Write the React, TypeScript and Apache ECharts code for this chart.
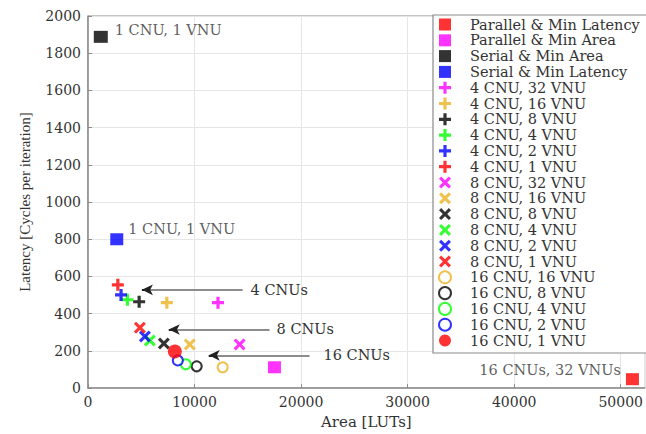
import React, { useEffect, useRef } from "react";
import * as echarts from "echarts";

// ---- data ----
const vnuLabels = ["32", "16", "8", "4", "2", "1"];
const vnuColors = ["#ff00ff", "#EDB120", "#000000", "#00ff00", "#0000ff", "#ff0000"];

const parallelMinLatency = [[51100, 48]];
const parallelMinArea = [[17500, 112]];
const serialMinArea = [[1200, 1888]];
const serialMinLatency = [[2700, 800]];

// 4 CNU: VNU 32,16,8,4,2,1
const cnu4Values = [[12200, 459], [7400, 459], [4800, 464], [3700, 475], [3100, 501], [2800, 555]];
// 8 CNU: VNU 32,16,8,4,2,1
const cnu8Values = [[14230, 235], [9550, 235], [7120, 240], [5800, 256], [5340, 277], [4870, 325]];
// 16 CNU: VNU 16,8,4,2,1
const cnu16Values = [[12640, 112], [10200, 117], [9180, 128], [8430, 149], [8150, 197]];

const arrowNotes = [
  { text: "4 CNUs", y: 528, tip: 5060, tail: 14510, gap: 8 },
  { text: "8 CNUs", y: 315, tip: 7580, tail: 17040, gap: 7 },
  { text: "16 CNUs", y: 176, tip: 11330, tail: 20790, gap: 14 },
];

const xTicks = [0, 10000, 20000, 30000, 40000, 50000];
const yMax = 2000;

const PLUS = "path://M4.4,0H7.6V4.4H12V7.6H7.6V12H4.4V7.6H0V4.4H4.4Z";
const CROSS = "path://M0,2.2L2.2,0L6,3.8L9.8,0L12,2.2L8.2,6L12,9.8L9.8,12L6,8.2L2.2,12L0,9.8L3.8,6Z";
const SQUARE = "path://M0,0H12V12H0Z";

const SERIF = "DejaVu Serif";
const TXT = "#333333";

export default function App() {
  const ref = useRef<HTMLDivElement>(null);
  useEffect(() => {
    if (!ref.current) return;
    const chart = echarts.init(ref.current, undefined, { renderer: "svg" });

    const annLabel = (text: string, position: string, offset: number[], distance = 5) => ({
      show: true,
      formatter: text,
      position,
      offset,
      distance,
      fontFamily: SERIF,
      fontSize: 14.5,
      color: TXT,
    });

    const series: any[] = [];
    series.push({
      name: "Parallel & Min Latency",
      type: "scatter",
      symbol: "rect",
      symbolSize: [13, 12],
      itemStyle: { color: "#ff0000" },
      data: parallelMinLatency,
      label: annLabel("16 CNUs, 32 VNUs", "left", [0, -9], 5),
    });
    series.push({
      name: "Parallel & Min Area",
      type: "scatter",
      symbol: "rect",
      symbolSize: [13, 12],
      itemStyle: { color: "#ff00ff" },
      data: parallelMinArea,
    });
    series.push({
      name: "Serial & Min Area",
      type: "scatter",
      symbol: "rect",
      symbolSize: [14, 12],
      itemStyle: { color: "#000000" },
      data: serialMinArea,
      label: annLabel("1 CNU, 1 VNU", "right", [0, -7], 7),
    });
    series.push({
      name: "Serial & Min Latency",
      type: "scatter",
      symbol: "rect",
      symbolSize: [13, 12],
      itemStyle: { color: "#0000ff" },
      data: serialMinLatency,
      label: annLabel("1 CNU, 1 VNU", "right", [0, -10], 5),
    });
    vnuLabels.forEach((v, i) => {
      series.push({
        name: `4 CNU, ${v} VNU`,
        type: "scatter",
        symbol: PLUS,
        symbolSize: 12,
        itemStyle: { color: vnuColors[i] },
        data: [cnu4Values[i]],
      });
    });
    vnuLabels.forEach((v, i) => {
      series.push({
        name: `8 CNU, ${v} VNU`,
        type: "scatter",
        symbol: CROSS,
        symbolSize: 12,
        itemStyle: { color: vnuColors[i] },
        data: [cnu8Values[i]],
      });
    });
    vnuLabels.slice(1).forEach((v, j) => {
      const i = j + 1;
      const filled = v === "1";
      series.push({
        name: `16 CNU, ${v} VNU`,
        type: "scatter",
        symbol: filled ? "circle" : "emptyCircle",
        symbolSize: filled ? 14 : 10,
        itemStyle: filled
          ? { color: vnuColors[i] }
          : { color: vnuColors[i], borderColor: vnuColors[i], borderWidth: 2.5 },
        data: [cnu16Values[j]],
      });
    });
    series.forEach((s) => {
      s.symbolKeepAspect = true;
    });

    // arrows
    series.push({
      name: "arrows",
      type: "scatter",
      data: [],
      silent: true,
      markLine: {
        silent: true,
        animation: false,
        data: [
          ...arrowNotes.map((a) => [
            {
              coord: [a.tip + 600, a.y],
              symbol: "none",
              lineStyle: { color: "#8c8c8c", width: 2, type: "solid" },
              label: {
                show: true,
                position: "end",
                formatter: a.text,
                distance: a.gap,
                fontFamily: SERIF,
                fontSize: 14.5,
                color: TXT,
              },
            },
            { coord: [a.tail, a.y], symbol: "none" },
          ]),
          ...arrowNotes.map((a) => [
            {
              coord: [a.tip, a.y],
              symbol: "arrow",
              symbolSize: [8, 11],
              lineStyle: { color: "#222222", width: 2, type: "solid" },
              label: { show: false },
            },
            { coord: [a.tip + 700, a.y], symbol: "none" },
          ]),
        ],
      },
    });

    const legendData = series
      .filter((s) => s.name !== "arrows")
      .map((s) => (s.symbol === "rect" ? { name: s.name, icon: SQUARE } : { name: s.name }));

    chart.setOption({
      animation: false,
      backgroundColor: "#ffffff",
      grid: {
        left: 88,
        top: 16,
        right: 0,
        bottom: 43,
        show: true,
        borderColor: "#8a8a8a",
        borderWidth: 1,
      },
      graphic: [
        {
          type: "rect",
          z: 3,
          shape: { x: 433, y: 15, width: 240, height: 338 },
          style: { fill: "#ffffff", stroke: "#8a8a8a", lineWidth: 1.2 },
          silent: true,
        },
      ],
      xAxis: {
        type: "value",
        min: 0,
        max: 52250,
        interval: 10000,
        name: "Area [LUTs]",
        nameLocation: "middle",
        nameGap: 21,
        nameTextStyle: { fontFamily: SERIF, fontSize: 15, color: TXT },
        axisLine: { show: true, lineStyle: { color: "#8a8a8a", width: 1.5 } },
        axisTick: { show: true, inside: true, length: 4, lineStyle: { color: "#8a8a8a" } },
        axisLabel: {
          fontFamily: SERIF,
          fontSize: 14,
          color: TXT,
          margin: 7,
          showMaxLabel: false,
          formatter: (v: number) => (xTicks.includes(v) ? String(v) : ""),
        },
        splitLine: { show: true, lineStyle: { color: "#e6e6e6", width: 1 } },
      },
      yAxis: {
        type: "value",
        min: 0,
        max: yMax,
        interval: 200,
        name: "Latency [Cycles per iteration]",
        nameLocation: "middle",
        nameGap: 56,
        nameTextStyle: { fontFamily: "Liberation Serif", fontSize: 15, color: TXT },
        axisLine: { show: true, lineStyle: { color: "#8a8a8a", width: 1.5 } },
        axisTick: { show: true, inside: true, length: 4, lineStyle: { color: "#8a8a8a" } },
        axisLabel: {
          fontFamily: SERIF,
          fontSize: 14,
          color: TXT,
          margin: 7,
          formatter: (v: number) => String(v),
        },
        splitLine: { show: true, lineStyle: { color: "#e6e6e6", width: 1 } },
      },
      legend: {
        data: legendData,
        orient: "vertical",
        left: 433,
        top: 15,
        z: 5,
        padding: [2, 0, 2, 5],
        itemWidth: 40,
        itemHeight: 12,
        itemGap: 0.8,
        borderWidth: 0,
        selectedMode: false,
        textStyle: { fontFamily: SERIF, fontSize: 14.5, color: TXT, lineHeight: 14 },
      },
      series,
    });
    return () => chart.dispose();
  }, []);

  return (
    <div
      ref={ref}
      style={{ position: "absolute", left: 0, top: 0, width: 646, height: 434 }}
    />
  );
}
